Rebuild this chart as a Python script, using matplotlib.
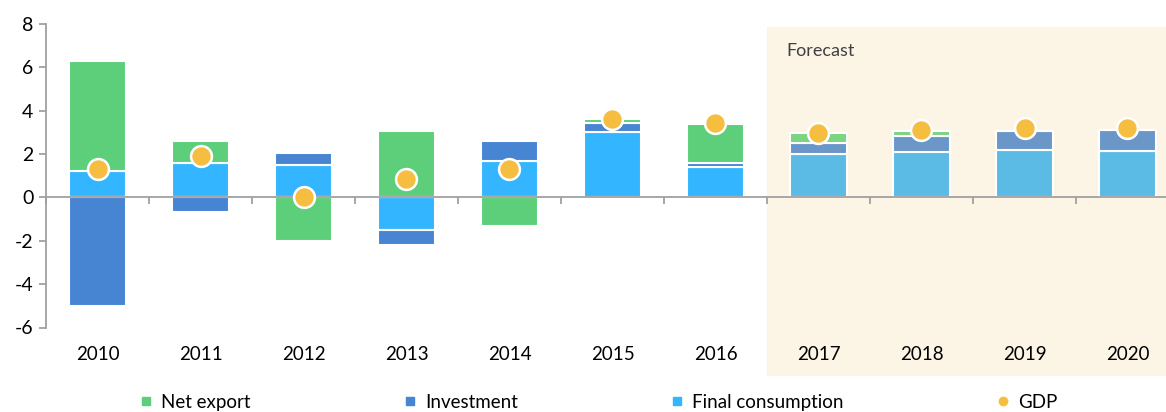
import numpy as np
import matplotlib.pyplot as plt
from matplotlib.lines import Line2D
import matplotlib.transforms as mtrans
from matplotlib.patches import Rectangle

plt.rcParams['font.family'] = ['Lato', 'DejaVu Sans']

years = ['2010', '2011', '2012', '2013', '2014', '2015', '2016', '2017', '2018', '2019', '2020']
final_consumption = [1.2, 1.6, 1.5, -1.5, 1.7, 3.0, 1.4, 2.0, 2.1, 2.18, 2.13]
investment = [-5.0, -0.68, 0.55, -0.7, 0.9, 0.45, 0.2, 0.5, 0.75, 0.9, 1.0]
net_export = [5.1, 1.0, -2.0, 3.05, -1.3, 0.15, 1.8, 0.45, 0.2, 0.0, 0.0]
gdp = [1.32, 1.93, 0.03, 0.85, 1.31, 3.62, 3.44, 2.99, 3.1, 3.19, 3.19]
n_actual = 7

col_actual = {'fc': '#33B5FF', 'inv': '#4784D2', 'nx': '#5DCF7A'}
col_fcst = {'fc': '#5BBBE5', 'inv': '#6A96C8', 'nx': '#7BD47F'}

fig = plt.figure(figsize=(11.66, 4.12), dpi=100)
ax = fig.add_axes([46/1166, 84.5/412, 1 - 46/1166, 303.5/412])

x = np.arange(len(years))
w = 0.55
pos_base = np.zeros(len(years))
neg_base = np.zeros(len(years))
for key, vals in [('fc', final_consumption), ('inv', investment), ('nx', net_export)]:
    vals = np.array(vals)
    colors = [col_actual[key] if i < n_actual else col_fcst[key] for i in range(len(years))]
    base = np.where(vals >= 0, pos_base, neg_base)
    ax.bar(x, vals, w, bottom=base, color=colors, edgecolor='white', linewidth=1.5, zorder=3)
    pos_base += np.where(vals >= 0, vals, 0)
    neg_base += np.where(vals < 0, vals, 0)

ax.plot(x, gdp, 'o', color='#F5BE41', markersize=15, markeredgecolor='white',
        markeredgewidth=1.8, linestyle='none', zorder=5)

# forecast shading
trans = mtrans.blended_transform_factory(ax.transData, ax.transAxes)
ax.add_patch(Rectangle((6.5, -0.156), 5, 1.146, transform=trans, color='#FCF5E5',
                       zorder=0, clip_on=False))
ax.text(6.69, 0.91, 'Forecast', transform=trans, fontsize=13, color='#404040', va='center')

ax.set_xlim(-0.5, 10.5 - 13/103)
ax.set_ylim(-6, 8)
ax.set_yticks(np.arange(-6, 9, 2))
ax.set_yticklabels([str(v) for v in range(-6, 9, 2)])

for s in ['top', 'right']:
    ax.spines[s].set_visible(False)
ax.spines['bottom'].set_position(('data', 0))
for s in ['left', 'bottom']:
    ax.spines[s].set_color('#A0A0A0')
    ax.spines[s].set_linewidth(1.3)
ax.spines['bottom'].set_zorder(4)

ax.set_xticks(x)
ax.set_xticklabels(years)
ax.set_xticks(np.arange(-0.5, 10.5, 1), minor=True)
ax.tick_params(axis='x', which='major', length=0, pad=107, labelsize=13.5)
ax.tick_params(axis='x', which='minor', length=5, color='#A0A0A0', width=1.3, direction='out')
ax.tick_params(axis='y', length=5, color='#A0A0A0', width=1.3, labelsize=14, pad=4)
ax.set_facecolor('none')

handles = [
    Line2D([], [], marker='s', color=col_actual['nx'], linestyle='none', markersize=6),
    Line2D([], [], marker='s', color=col_actual['inv'], linestyle='none', markersize=6),
    Line2D([], [], marker='s', color=col_actual['fc'], linestyle='none', markersize=6),
    Line2D([], [], marker='o', color='#F5BE41', linestyle='none', markersize=6),
]
labels = ['Net export', 'Investment', 'Final consumption', 'GDP']
fig.legend(handles, labels, loc='center', bbox_to_anchor=(599/1166, 0.024), ncol=4,
           frameon=False, fontsize=13.5, handlelength=0.6, handletextpad=0.5,
           columnspacing=8.2)

fig.savefig('out.png', dpi=100)
